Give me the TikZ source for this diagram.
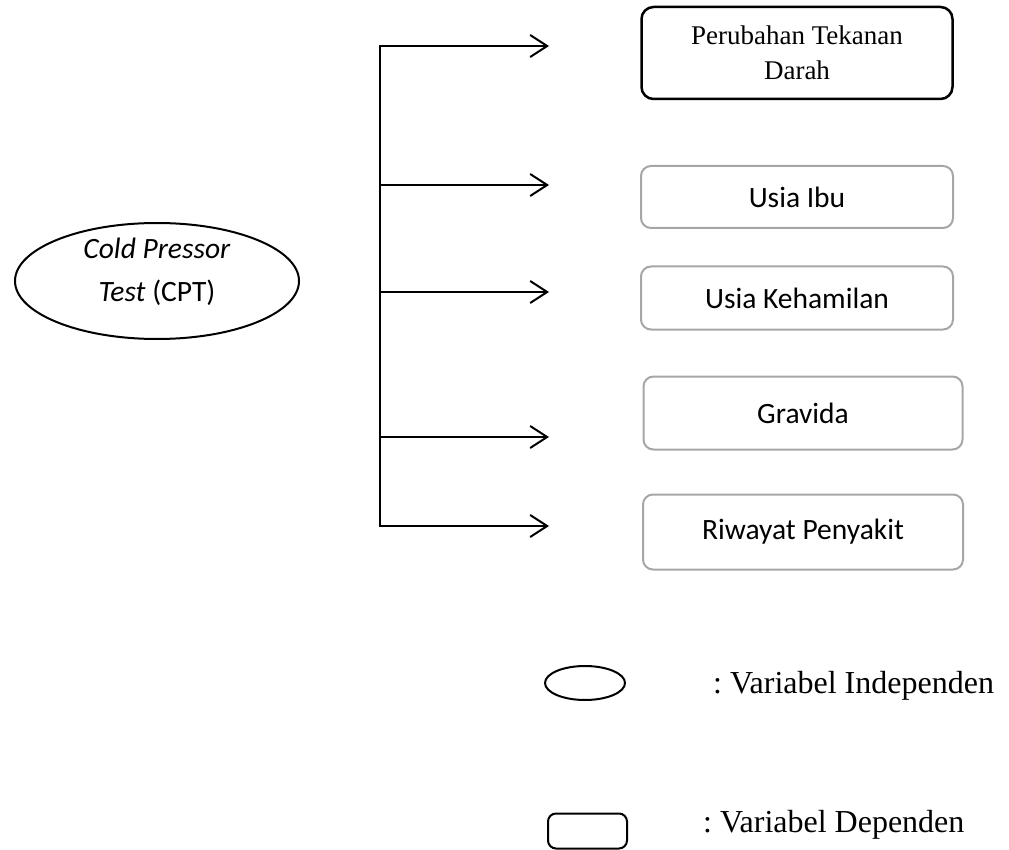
\documentclass[tikz,border=0pt]{standalone}
\usepackage{fontspec}
\setmainfont{Liberation Serif}
\newfontfamily\calibri{Carlito}
\usetikzlibrary{shapes.geometric, arrows.meta}
\frenchspacing

\begin{document}
\begin{tikzpicture}[x=1pt, y=-1pt,
    depbox/.style={draw=gray!70, line width=2pt, rounded corners=10pt,
        minimum width=312pt, minimum height=62pt,
        font=\calibri\fontsize{29.5}{34}\selectfont},
    legendtext/.style={anchor=base west, inner sep=0pt,
        font=\fontsize{32}{38}\selectfont},
    branch/.style={line width=2pt,
        -{Straight Barb[length=17pt, width=22pt]}}]
    \useasboundingbox (0,0) rectangle (1009,850);

    % Define nodes
    \node[shape=ellipse, draw=black, line width=2pt, minimum width=284pt,
        minimum height=116pt, inner sep=-12pt,
        font=\calibri\fontsize{29.5}{43}\selectfont] (cpt) at (157,281)
        {\raisebox{10pt}[\height][\depth]{\begin{tabular}{@{}c@{}}
            \textit{Cold Pressor}\\\textit{Test} (CPT)\end{tabular}}};
    \node[draw=black, line width=2.5pt, rounded corners=12pt,
        minimum width=311pt, minimum height=92pt, align=center,
        font=\fontsize{27}{35}\selectfont] (tekanan) at (797,53)
        {Perubahan Tekanan\\Darah};
    \node[depbox] (usiaibu) at (797,197) {Usia Ibu};
    \node[depbox, minimum height=63pt] (kehamilan) at (797,298) {Usia Kehamilan};
    \node[depbox, minimum width=319pt, minimum height=73pt] (gravida) at (803,413) {Gravida};
    \node[depbox, minimum width=320pt, minimum height=75pt] (riwayat) at (803,532) {Riwayat Penyakit};

    % Legend
    \node[shape=ellipse, draw=black, line width=2pt, minimum width=80pt,
        minimum height=34pt, inner sep=0pt] (indep) at (585,683) {};
    \node[legendtext] (indeplabel) at (713,693) {: Variabel Independen};
    \node[draw=black, line width=2pt, rounded corners=8pt, minimum width=79pt,
        minimum height=35pt, inner sep=0pt] (dep) at (587.5,831) {};
    \node[legendtext] (deplabel) at (703,832) {: Variabel Dependen};

    % Draw edges
    \foreach \name/\y in {a/46, b/185, c/292, d/437, e/526} {
        \coordinate (trunk\name) at (380,\y);
        \coordinate (tip\name) at (549,\y);
        \draw[branch] (trunk\name) -- (tip\name);
    }
    \draw[line width=2pt, line cap=rect] (trunka) -- (trunke);

\end{tikzpicture}
\end{document}
